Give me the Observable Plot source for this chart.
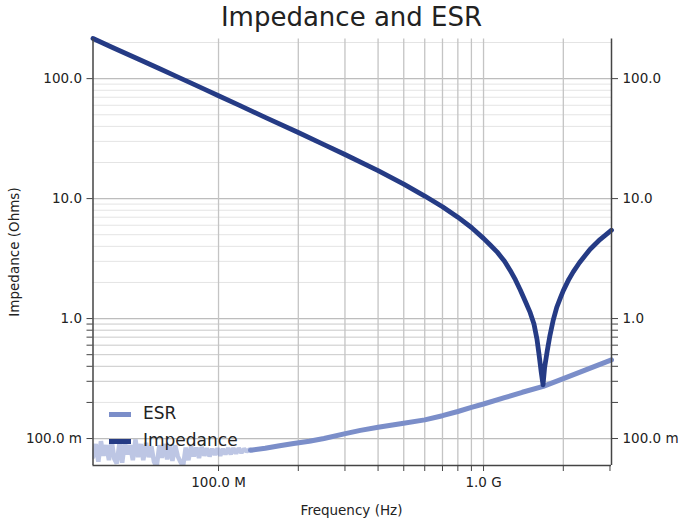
<!DOCTYPE html>
<html>
<head>
<meta charset="utf-8">
<script src="https://cdn.jsdelivr.net/npm/d3@7"></script>
<script src="https://cdn.jsdelivr.net/npm/@observablehq/plot@0.6"></script>
<style>
  html, body { margin: 0; padding: 0; background: #fff; }
  #wrap { position: relative; width: 685px; height: 526px; font-family: "DejaVu Sans", sans-serif; color: #222; }
  .title { position: absolute; left: 92px; width: 519px; top: 2px; text-align: center; font-size: 26px; }
  .xlabel { position: absolute; left: 92px; width: 519px; top: 502px; text-align: center; font-size: 13.5px; }
  .ylabel { position: absolute; left: 14px; top: 252px; font-size: 13.5px; transform: translate(-50%, -50%) rotate(-90deg); white-space: nowrap; }
  .legend { position: absolute; left: 109px; top: 400px; font-size: 17px; line-height: 27px; }
  .legend .sw { display: inline-block; width: 22px; height: 5px; vertical-align: middle; margin-right: 12px; }
</style>
</head>
<body>
<div id="wrap">
  <div id="chart"></div>
  <div class="title">Impedance and ESR</div>
  <div class="xlabel">Frequency (Hz)</div>
  <div class="ylabel">Impedance (Ohms)</div>
  <div class="legend" id="legend"></div>
</div>
<script>
// ---- data ----
const seriesNames = ["ESR", "Impedance"];
const seriesColors = ["#7b8ec9", "#253b85"];

const impFreq = [33.6e6, 40e6, 50e6, 60e6, 70e6, 80e6, 90e6, 100e6, 120e6, 150e6, 200e6, 250e6, 300e6, 400e6, 500e6, 600e6, 700e6, 800e6, 900e6, 1.0e9, 1.06e9, 1.124e9, 1.2e9, 1.261e9, 1.32e9, 1.375e9, 1.44e9, 1.5e9, 1.55e9, 1.59e9, 1.62e9, 1.65e9, 1.677e9, 1.70e9, 1.74e9, 1.78e9, 1.83e9, 1.889e9, 1.95e9, 2.0e9, 2.1e9, 2.18e9, 2.3e9, 2.52e9, 2.75e9, 3.04e9];
const impedance = [216, 181, 145, 121, 103.5, 90.5, 80.3, 72.0, 59.8, 47.6, 35.6, 28.2, 23.3, 17.1, 13.2, 10.5, 8.55, 7.0, 5.74, 4.66, 4.1, 3.6, 3.0, 2.52, 2.1, 1.74, 1.38, 1.12, 0.9, 0.68, 0.5, 0.36, 0.28, 0.39, 0.54, 0.72, 0.96, 1.24, 1.49, 1.71, 2.13, 2.45, 2.92, 3.77, 4.56, 5.45];

const esrNoisyFreq = [33.6e6, 34.4e6, 35.2e6, 36.0e6, 36.8e6, 37.7e6, 38.6e6, 39.5e6, 40.4e6, 41.3e6, 42.3e6, 43.3e6, 44.3e6, 45.3e6, 46.4e6, 47.5e6, 48.6e6, 49.7e6, 50.9e6, 52.0e6, 53.3e6, 54.5e6, 55.8e6, 57.1e6, 58.4e6, 59.8e6, 61.1e6, 62.6e6, 64.0e6, 65.5e6, 67.0e6, 68.6e6, 70.2e6, 71.8e6, 73.5e6, 75.2e6, 77.0e6, 78.8e6, 80.6e6, 82.5e6, 84.4e6, 86.4e6, 88.4e6, 90.4e6, 92.5e6, 94.7e6, 96.9e6, 99.2e6, 101.5e6, 103.8e6, 106.2e6, 108.7e6, 111.3e6, 113.8e6, 116.5e6, 119.2e6, 122.0e6, 124.8e6, 127.7e6, 130.7e6, 133.8e6];
const esrNoisy = [0.070, 0.090, 0.064, 0.095, 0.072, 0.088, 0.066, 0.097, 0.068, 0.062, 0.092, 0.063, 0.094, 0.074, 0.088, 0.066, 0.098, 0.070, 0.090, 0.066, 0.092, 0.070, 0.086, 0.064, 0.058, 0.088, 0.069, 0.090, 0.067, 0.087, 0.065, 0.088, 0.071, 0.064, 0.059, 0.084, 0.066, 0.086, 0.071, 0.084, 0.069, 0.085, 0.072, 0.083, 0.071, 0.082, 0.073, 0.083, 0.072, 0.082, 0.074, 0.083, 0.074, 0.083, 0.075, 0.083, 0.076, 0.082, 0.078, 0.081, 0.080];

const esrFreq = [132e6, 150e6, 170e6, 192e6, 220e6, 250e6, 301e6, 343e6, 400e6, 486e6, 600e6, 700e6, 800e6, 900e6, 1.0e9, 1.2e9, 1.4e9, 1.68e9, 2.0e9, 2.5e9, 3.04e9];
const esr = [0.080, 0.083, 0.087, 0.091, 0.095, 0.100, 0.110, 0.117, 0.124, 0.133, 0.143, 0.155, 0.168, 0.182, 0.194, 0.219, 0.243, 0.272, 0.316, 0.383, 0.452];

// axes
const xDomain = [3.36e7, 3.04e9];
const yDomain = [0.0596, 214];
const xTickValues = [1e8, 1e9];
const xTickLabels = ["100.0 M", "1.0 G"];
const xMinorTicks = [2e8, 3e8, 4e8, 5e8, 6e8, 7e8, 8e8, 9e8, 2e9, 3e9];
const xGrid = [1e8, 2e8, 3e8, 4e8, 5e8, 6e8, 7e8, 8e8, 9e8, 1e9, 2e9];
const yTickValues = [0.1, 1, 10, 100];
const yTickLabels = ["100.0 m", "1.0", "10.0", "100.0"];
const yMinorTicks = [0.2, 0.3, 0.4, 0.5, 0.6, 0.7, 0.8, 0.9];
const yMinorGrid = [0.2, 2, 3, 4, 5, 6, 7, 8, 9, 20, 30, 40, 50, 60, 70, 80, 90, 200];
const yMidGrid = [0.3, 0.4, 0.5, 0.6, 0.7, 0.8, 0.9];

const impData = impFreq.map((f, i) => ({f, v: impedance[i]}));
const esrData = esrFreq.map((f, i) => ({f, v: esr[i]}));
const esrNoisyData = esrNoisyFreq.map((f, i) => ({f, v: esrNoisy[i]}));

const xfmt = d => xTickLabels[xTickValues.indexOf(d)];
const yfmt = d => yTickLabels[yTickValues.indexOf(d)];
const axisColor = "#444";

const chart = Plot.plot({
  width: 685,
  height: 526,
  marginTop: 38.5,
  marginBottom: 61,
  marginLeft: 92.5,
  marginRight: 74,
  style: {fontFamily: "DejaVu Sans, sans-serif", fontSize: "13.5px", color: "#222", background: "transparent"},
  x: {type: "log", domain: xDomain, axis: null},
  y: {type: "log", domain: yDomain, axis: null},
  marks: [
    Plot.ruleY(yMinorGrid, {stroke: "#e4e4e4", strokeWidth: 1}),
    Plot.ruleY(yMidGrid, {stroke: "#c9c9c9", strokeWidth: 1}),
    Plot.ruleY(yTickValues, {stroke: "#bdbdbd", strokeWidth: 1.3}),
    Plot.ruleX(xGrid, {stroke: "#c4c4c4", strokeWidth: 1.3}),
    Plot.line(esrNoisyData, {x: "f", y: "v", stroke: seriesColors[0], strokeOpacity: 0.5, strokeWidth: 4.5, strokeLinejoin: "miter", clip: true}),
    Plot.line(esrData, {x: "f", y: "v", stroke: seriesColors[0], strokeWidth: 5}),
    Plot.line(impData, {x: "f", y: "v", stroke: seriesColors[1], strokeWidth: 4.8}),
    Plot.ruleX([xDomain[0], xDomain[1]], {stroke: axisColor, strokeWidth: 1.5}),
    Plot.ruleY([yDomain[0]], {stroke: axisColor, strokeWidth: 1.5}),
    Plot.axisY({anchor: "left", ticks: yTickValues, tickFormat: yfmt, tickSize: 6, tickPadding: 5, label: null, stroke: axisColor}),
    Plot.axisY({anchor: "right", ticks: yTickValues, tickFormat: yfmt, tickSize: 6, tickPadding: 5, label: null, stroke: axisColor}),
    Plot.axisY({anchor: "left", ticks: yMinorTicks, tickFormat: () => "", tickSize: 6, label: null, stroke: axisColor}),
    Plot.axisY({anchor: "right", ticks: yMinorTicks, tickFormat: () => "", tickSize: 6, label: null, stroke: axisColor}),
    Plot.axisX({anchor: "bottom", ticks: xTickValues, tickFormat: xfmt, tickSize: 6, tickPadding: 6, label: null, stroke: axisColor}),
    Plot.axisX({anchor: "bottom", ticks: xMinorTicks, tickFormat: () => "", tickSize: 6, label: null, stroke: axisColor})
  ]
});
document.getElementById("chart").appendChild(chart);

const legend = document.getElementById("legend");
seriesNames.forEach((n, i) => {
  const row = document.createElement("div");
  row.innerHTML = `<span class="sw" style="background:${seriesColors[i]}"></span>${n}`;
  legend.appendChild(row);
});
</script>
</body>
</html>
